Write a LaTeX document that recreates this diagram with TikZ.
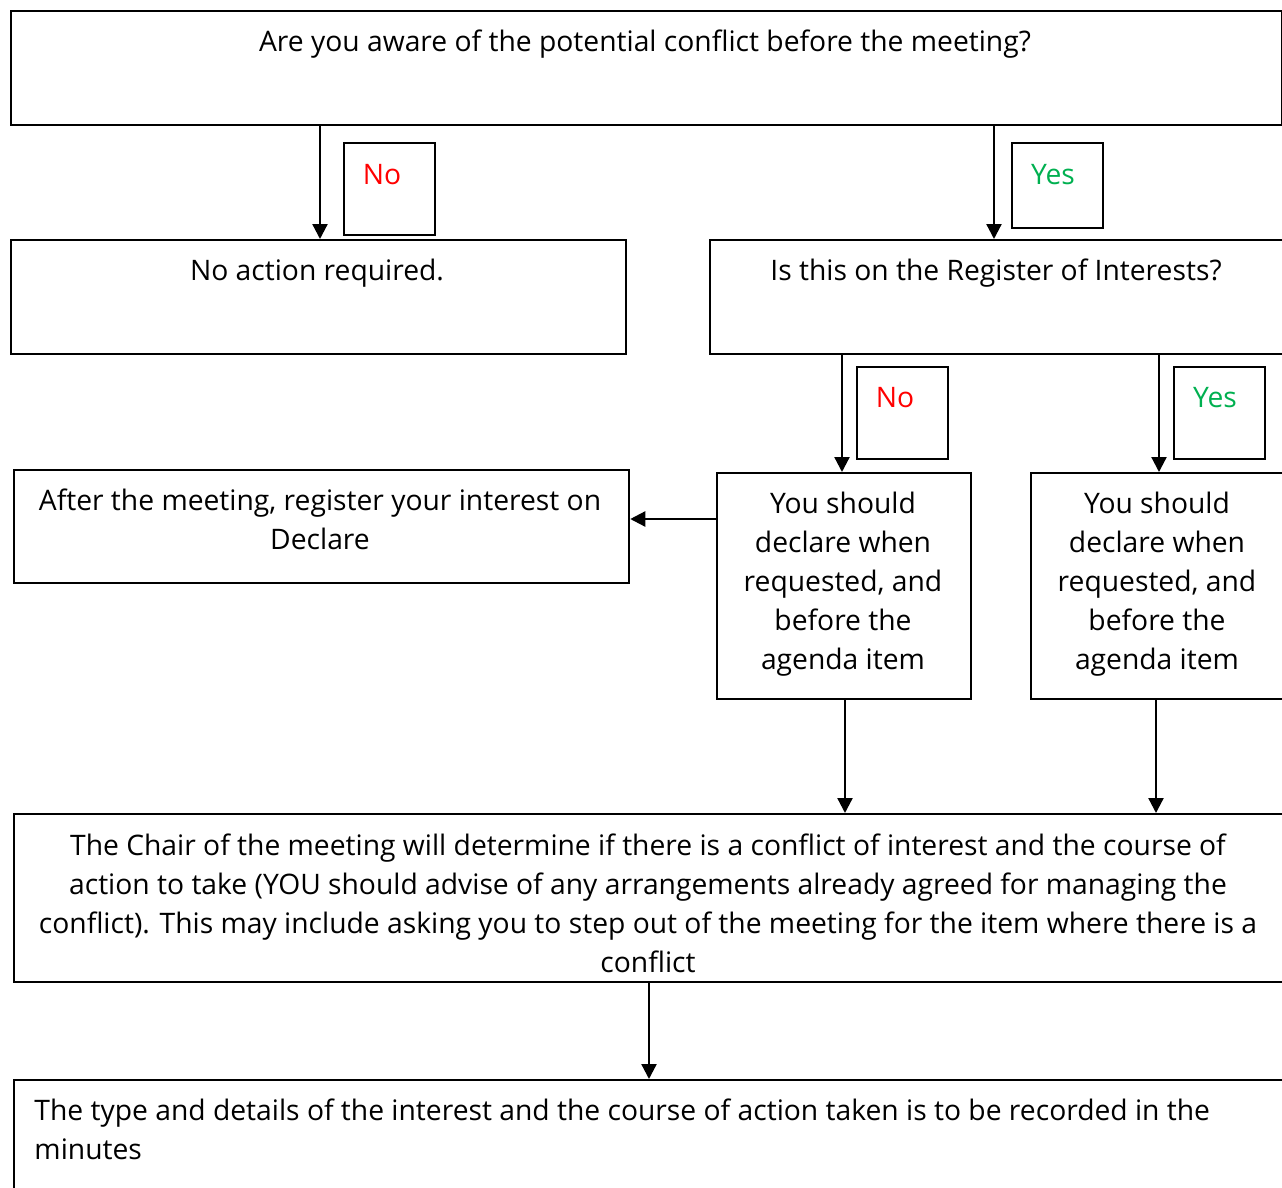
\documentclass[tikz,border=0pt]{standalone}
\usepackage{fontspec}
\setmainfont{Open Sans}
\usetikzlibrary{arrows.meta}
\definecolor{noRed}{RGB}{255,0,0}
\definecolor{yesGreen}{RGB}{0,176,80}
\newcommand\pxu{0.4pt}
\tikzset{
  box/.style={draw, line width=0.9pt, anchor=north west, inner sep=0pt},
  txt/.style={anchor=base, inner sep=0pt, align=center, font=\fontsize{11.3}{15.6}\selectfont},
  flow/.style={line width=0.9pt, -{Triangle[length=6pt, width=6pt]}},
}
\begin{document}
\begin{tikzpicture}[x=0.4pt, y=-0.4pt]

\useasboundingbox (0,0) rectangle (1282,1188);

\node [box, minimum width=1271*\pxu, minimum height=114*\pxu] (aware) at (10,10) {};
\node [txt] (aware text) at (645,51) {Are you aware of the potential conflict before the meeting?};

\node [box, minimum width=615*\pxu, minimum height=114*\pxu] (noaction) at (10,239) {};
\node [txt] (noaction text) at (317,280) {No action required.};

\node [box, minimum width=600*\pxu, minimum height=114*\pxu] (register) at (709,239) {};
\node [txt] (register text) at (996,280) {Is this on the Register of Interests?};

\node [box, minimum width=91*\pxu, minimum height=92*\pxu] (no one) at (343,142) {};
\node [txt, text=noRed] (no one text) at (382,184) {No};
\node [box, minimum width=91*\pxu, minimum height=85*\pxu] (yes one) at (1011,142) {};
\node [txt, text=yesGreen] (yes one text) at (1053,184) {Yes};

\node [box, minimum width=91*\pxu, minimum height=92*\pxu] (no two) at (856,366) {};
\node [txt, text=noRed] (no two text) at (895,407) {No};
\node [box, minimum width=91*\pxu, minimum height=92*\pxu] (yes two) at (1173,366) {};
\node [txt, text=yesGreen] (yes two text) at (1215,407) {Yes};

\node [box, minimum width=615*\pxu, minimum height=113*\pxu] (after) at (13,469) {};
\node [txt] (after text) at (320,549) {After the meeting, register your interest on\\Declare};

\node [box, minimum width=254*\pxu, minimum height=226*\pxu] (declare no) at (716,472) {};
\node [txt] (declare no text) at (843,669) {You should\\declare when\\requested, and\\before the\\agenda item};

\node [box, minimum width=280*\pxu, minimum height=226*\pxu] (declare yes) at (1030,472) {};
\node [txt] (declare yes text) at (1157,669) {You should\\declare when\\requested, and\\before the\\agenda item};

\node [box, minimum width=1290*\pxu, minimum height=168*\pxu] (chair) at (13,813) {};
\begin{scope}
\clip (chair.north west) rectangle ([yshift=3.6pt]chair.south east);
\node [txt] (chair text) at (648,972) {The Chair of the meeting will determine if there is a conflict of interest and the course of\\action to take (YOU should advise of any arrangements already agreed for managing the\\conflict). This may include asking you to step out of the meeting for the item where there is a\\conflict};
\end{scope}

\node [box, minimum width=1290*\pxu, minimum height=140*\pxu] (minutes) at (13,1079) {};
\node [txt, anchor=base west, align=left] (minutes text) at (34,1159) {The type and details of the interest and the course of action taken is to be recorded in the\\minutes};

% connectors
\draw [flow] (aware.south -| 320,0) -- (noaction.north -| 320,0);
\draw [flow] (aware.south -| 994,0) -- (register.north -| 994,0);
\draw [flow] (register.south -| 842,0) -- (declare no.north -| 842,0);
\draw [flow] (register.south -| 1159,0) -- (declare yes.north -| 1159,0);
\draw [flow] (declare no.west |- 0,519) -- (after.east |- 0,519);
\draw [flow] (declare no.south -| 845,0) -- (chair.north -| 845,0);
\draw [flow] (declare yes.south -| 1156,0) -- (chair.north -| 1156,0);
\draw [flow] (chair.south -| 649,0) -- (minutes.north -| 649,0);

\end{tikzpicture}
\end{document}
